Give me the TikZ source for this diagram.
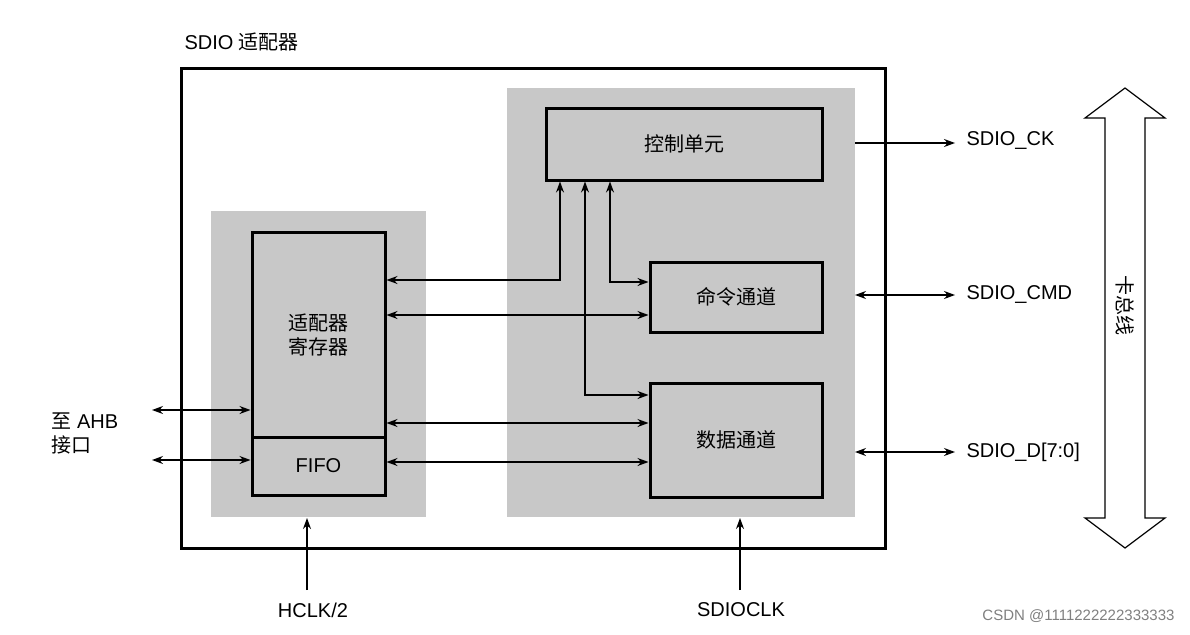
\documentclass[tikz,border=0pt]{standalone}
\usepackage{fontspec}
\setmainfont{Liberation Sans}
\newfontfamily\cjk{Noto Sans CJK SC}
\usetikzlibrary{arrows.meta}
\definecolor{grayreg}{HTML}{C8C8C8}
\begin{document}
\begin{tikzpicture}[x=1pt,y=-1pt,
  box/.style={draw,line width=3pt},
  area/.style={fill=grayreg},
  lbl/.style={font=\fontsize{20}{24}\selectfont},
  tip/.style={{Stealth[length=11pt,width=8pt]}},
  con/.style={line width=1.2pt,-{Stealth[length=11pt,width=8pt]}},
  bi/.style={line width=1.2pt,{Stealth[length=11pt,width=8pt]}-{Stealth[length=11pt,width=8pt]}}]
\useasboundingbox (0,0) rectangle (1190,634);
\fill[white] (0,0) rectangle (1190,634);
\node[lbl,anchor=west] (title) at (181,42) {SDIO {\cjk 适配器}};
\draw[box] (181,68) rectangle (885,548);
\fill[area] (211,211) rectangle (426,517);
\fill[area] (507,88) rectangle (855,517);
\node[box,area,minimum width=133pt,minimum height=205pt,lbl,align=center] (reg) at (318.5,334.5) {\cjk 适配器\\\cjk 寄存器};
\node[box,area,minimum width=133pt,minimum height=58pt,lbl] (fifo) at (318.5,466) {FIFO};
\node[box,area,minimum width=276pt,minimum height=72pt,lbl] (ctrl) at (684,144) {\cjk 控制单元};
\node[box,area,minimum width=172pt,minimum height=70pt,lbl] (cmd) at (736,297) {\cjk 命令通道};
\node[box,area,minimum width=172pt,minimum height=114pt,lbl] (dat) at (736,440) {\cjk 数据通道};
% register <-> control
\draw[bi] (reg.east |- 0,280) -- (560,280) -- (560,181.5);
\draw[bi] (585,181.5) -- (585,395) -- (dat.west |- 0,395);
\draw[bi] (610,181.5) -- (610,282) -- (cmd.west |- 0,282);
\draw[bi] (reg.east |- 0,315) -- (cmd.west |- 0,315);
\draw[bi] (reg.east |- 0,423) -- (dat.west |- 0,423);
\draw[bi] (fifo.east |- 0,462) -- (dat.west |- 0,462);
% AHB
\coordinate (a1) at (152,410); \coordinate (a2) at (152,460);
\draw[bi] (a1) -- (reg.west |- a1);
\draw[bi] (a2) -- (fifo.west |- a2);
\node[lbl,anchor=west,align=left] (ahb) at (48,433) {{\cjk 至} AHB\\{\cjk 接口}};
% right side
\coordinate (ck) at (955,143); \coordinate (ckL) at (855,143);
\draw[con] (ckL) -- (ck);
\node[lbl,anchor=west] (tck) at (963,141) {SDIO\_CK};
\coordinate (cm) at (955,295); \coordinate (cmL) at (855,295);
\draw[bi] (cmL) -- (cm);
\node[lbl,anchor=west] (tcm) at (963,295) {SDIO\_CMD};
\coordinate (dd) at (955,452); \coordinate (ddL) at (855,452);
\draw[bi] (ddL) -- (dd);
\node[lbl,anchor=west] (tdd) at (963,452) {SDIO\_D[7:0]};
% bus arrow
\draw[line width=1.2pt,fill=white] (1125,88) -- (1165,118) -- (1145,118) -- (1145,518) -- (1165,518) -- (1125,548) -- (1085,518) -- (1105,518) -- (1105,118) -- (1085,118) -- cycle;
\node[lbl,rotate=-90] (bus) at (1125,305) {\cjk 卡总线};
% clocks
\coordinate (h) at (307,590); \coordinate (ht) at (307,518);
\draw[con] (h) -- (ht);
\node[lbl] (th) at (313,610) {HCLK/2};
\coordinate (s) at (740,590); \coordinate (st) at (740,518);
\draw[con] (s) -- (st);
\node[lbl] (ts) at (741,610) {SDIOCLK};
\node[anchor=east,text=gray,font=\fontsize{15}{18}\selectfont] (wm) at (1178,616) {CSDN @1111222222333333};
\end{tikzpicture}
\end{document}
